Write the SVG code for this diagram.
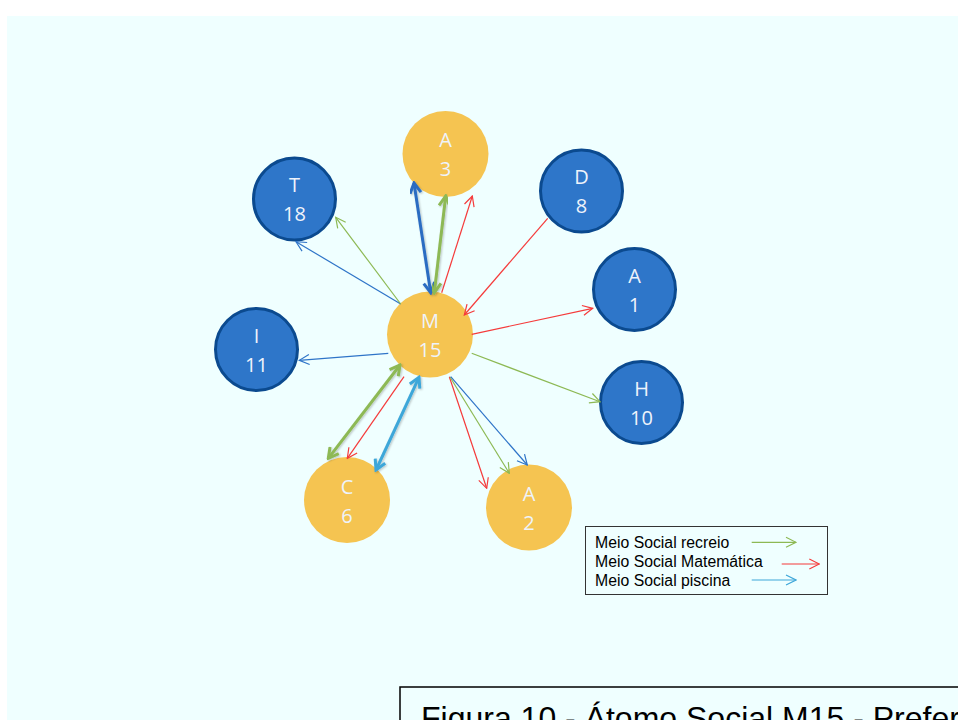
<svg xmlns="http://www.w3.org/2000/svg" width="958" height="720" viewBox="0 0 958 720">
  <style>
    .blue circle { fill: #2E76C9; stroke: #0B4A8F; stroke-width: 3; }
    .gold circle { fill: #F5C451; }
    .lbl { font-family: "Open Sans", "Noto Sans", sans-serif; font-size: 20px; fill: #EEF3FB; text-anchor: middle; }
    .thin { fill: none; stroke-width: 1.2; }
    .thick { fill: none; stroke-width: 3; filter: url(#soft); }
    .g { stroke: #8DB954; }
    .r { stroke: #F53B3B; }
    .b { stroke: #2E74C8; }
    .bt { stroke: #2A6CC2; }
    .lb { stroke: #3EA7D9; }
    .legend { font-family: "Liberation Sans", Arial, sans-serif; font-size: 15.8px; fill: #000; }
    .caption { font-family: "Liberation Sans", Arial, sans-serif; font-size: 32px; fill: #000; }
  </style>
  <defs>
    <filter id="soft" x="-20%" y="-20%" width="140%" height="140%">
      <feGaussianBlur in="SourceAlpha" stdDeviation="1.2" result="bl"/>
      <feOffset dx="0.5" dy="1" result="of"/>
      <feComponentTransfer><feFuncA type="linear" slope="0.25"/></feComponentTransfer>
      <feMerge><feMergeNode/><feMergeNode in="SourceGraphic"/></feMerge>
    </filter>
    <!-- thin open arrowheads -->
    <marker id="tg" viewBox="0 0 12 12" refX="11" refY="6" markerWidth="12" markerHeight="12" markerUnits="userSpaceOnUse" orient="auto">
      <path d="M1,1 L11,6 L1,11" fill="none" stroke="#8DB954" stroke-width="1.2"/>
    </marker>
    <marker id="tr" viewBox="0 0 12 12" refX="11" refY="6" markerWidth="12" markerHeight="12" markerUnits="userSpaceOnUse" orient="auto">
      <path d="M1,1 L11,6 L1,11" fill="none" stroke="#F53B3B" stroke-width="1.2"/>
    </marker>
    <marker id="tb" viewBox="0 0 12 12" refX="11" refY="6" markerWidth="12" markerHeight="12" markerUnits="userSpaceOnUse" orient="auto">
      <path d="M1,1 L11,6 L1,11" fill="none" stroke="#2E74C8" stroke-width="1.2"/>
    </marker>
    <marker id="tlb" viewBox="0 0 12 12" refX="11" refY="6" markerWidth="12" markerHeight="12" markerUnits="userSpaceOnUse" orient="auto">
      <path d="M1,1 L11,6 L1,11" fill="none" stroke="#3EA7D9" stroke-width="1.2"/>
    </marker>
    <!-- thick open arrowheads (both ends) -->
    <marker id="kg" viewBox="0 0 14 14" refX="12" refY="7" markerWidth="14" markerHeight="14" markerUnits="userSpaceOnUse" orient="auto-start-reverse">
      <path d="M2,1.5 L12,7 L2,12.5" fill="none" stroke="#8DB954" stroke-width="3"/>
    </marker>
    <marker id="kb" viewBox="0 0 14 14" refX="12" refY="7" markerWidth="14" markerHeight="14" markerUnits="userSpaceOnUse" orient="auto-start-reverse">
      <path d="M2,1.5 L12,7 L2,12.5" fill="none" stroke="#2A6CC2" stroke-width="3"/>
    </marker>
    <marker id="klb" viewBox="0 0 14 14" refX="12" refY="7" markerWidth="14" markerHeight="14" markerUnits="userSpaceOnUse" orient="auto-start-reverse">
      <path d="M2,1.5 L12,7 L2,12.5" fill="none" stroke="#3EA7D9" stroke-width="3"/>
    </marker>
  </defs>

  <!-- page and slide background -->
  <rect x="0" y="0" width="958" height="720" fill="#FFFFFF"/>
  <rect x="7" y="16" width="951" height="704" fill="#EFFFFF"/>

  <!-- nodes -->
  <g id="node-A3" class="gold">
    <circle cx="445.5" cy="154" r="43"/>
    <text class="lbl" x="445.5" y="147">A</text>
    <text class="lbl" x="445.5" y="176">3</text>
  </g>
  <g id="node-T18" class="blue">
    <circle cx="294.5" cy="199" r="41"/>
    <text class="lbl" x="294.5" y="192">T</text>
    <text class="lbl" x="294.5" y="221">18</text>
  </g>
  <g id="node-D8" class="blue">
    <circle cx="581.5" cy="191" r="41"/>
    <text class="lbl" x="581.5" y="184">D</text>
    <text class="lbl" x="581.5" y="213">8</text>
  </g>
  <g id="node-A1" class="blue">
    <circle cx="634.5" cy="289.5" r="41"/>
    <text class="lbl" x="634.5" y="282.5">A</text>
    <text class="lbl" x="634.5" y="311.5">1</text>
  </g>
  <g id="node-H10" class="blue">
    <circle cx="641.5" cy="402.5" r="41"/>
    <text class="lbl" x="641.5" y="395.5">H</text>
    <text class="lbl" x="641.5" y="424.5">10</text>
  </g>
  <g id="node-I11" class="blue">
    <circle cx="256.5" cy="349.5" r="41"/>
    <text class="lbl" x="256.5" y="342.5">I</text>
    <text class="lbl" x="256.5" y="371.5">11</text>
  </g>
  <g id="node-M15" class="gold">
    <circle cx="430" cy="334.5" r="43"/>
    <text class="lbl" x="430" y="328">M</text>
    <text class="lbl" x="430" y="357">15</text>
  </g>
  <g id="node-C6" class="gold">
    <circle cx="347" cy="500" r="43"/>
    <text class="lbl" x="347" y="494">C</text>
    <text class="lbl" x="347" y="523">6</text>
  </g>
  <g id="node-A2" class="gold">
    <circle cx="529" cy="507.5" r="43"/>
    <text class="lbl" x="529" y="501">A</text>
    <text class="lbl" x="529" y="530">2</text>
  </g>

  <!-- connectors -->
  <g id="connectors">
    <line class="thin b" x1="400.7" y1="304" x2="296" y2="241.7" marker-end="url(#tb)"/>
    <line class="thin g" x1="400.7" y1="304" x2="335.7" y2="217.3" marker-end="url(#tg)"/>
    <line class="thin r" x1="441.7" y1="292.7" x2="472.3" y2="196" marker-end="url(#tr)"/>
    <line class="thin r" x1="547.7" y1="218.3" x2="464.3" y2="315" marker-end="url(#tr)"/>
    <line class="thin r" x1="471.7" y1="334.3" x2="592.7" y2="308.3" marker-end="url(#tr)"/>
    <line class="thin g" x1="471.7" y1="353.3" x2="600" y2="401.7" marker-end="url(#tg)"/>
    <line class="thin r" x1="449.3" y1="376.7" x2="486.7" y2="488.3" marker-end="url(#tr)"/>
    <line class="thin g" x1="450" y1="377" x2="509.3" y2="473.3" marker-end="url(#tg)"/>
    <line class="thin b" x1="450.7" y1="376.7" x2="527.3" y2="465" marker-end="url(#tb)"/>
    <line class="thin b" x1="388.3" y1="353.3" x2="299.3" y2="360.3" marker-end="url(#tb)"/>
    <line class="thin r" x1="404" y1="376.7" x2="347.3" y2="458.3" marker-end="url(#tr)"/>

    <line class="thick bt" x1="414" y1="183" x2="430.7" y2="292.7" marker-start="url(#kb)" marker-end="url(#kb)"/>
    <line class="thick g" x1="445.7" y1="196" x2="434.3" y2="292.7" marker-start="url(#kg)" marker-end="url(#kg)"/>
    <line class="thick g" x1="400" y1="365" x2="328.3" y2="458.3" marker-start="url(#kg)" marker-end="url(#kg)"/>
    <line class="thick lb" x1="419" y1="377.3" x2="376" y2="470" marker-start="url(#klb)" marker-end="url(#klb)"/>
  </g>

  <!-- legend -->
  <g id="legend">
    <rect x="585.5" y="526.5" width="242" height="68" fill="none" stroke="#333333" stroke-width="1"/>
    <text class="legend" x="595" y="547.5">Meio Social recreio</text>
    <text class="legend" x="595" y="567">Meio Social Matemática</text>
    <text class="legend" x="595" y="586">Meio Social piscina</text>
    <line class="thin g" x1="751.7" y1="542.3" x2="796" y2="542.3" marker-end="url(#tg)"/>
    <line class="thin r" x1="781.7" y1="564" x2="819.3" y2="564" marker-end="url(#tr)"/>
    <line class="thin lb" x1="751.7" y1="580" x2="796" y2="580" marker-end="url(#tlb)"/>
  </g>

  <!-- caption box, running off the page edge -->
  <g id="caption">
    <rect x="400" y="687" width="580" height="60" fill="none" stroke="#000000" stroke-width="1.5"/>
    <text class="caption" x="421" y="729">Figura 10 - Átomo Social M15 - Prefer</text>
  </g>
</svg>
